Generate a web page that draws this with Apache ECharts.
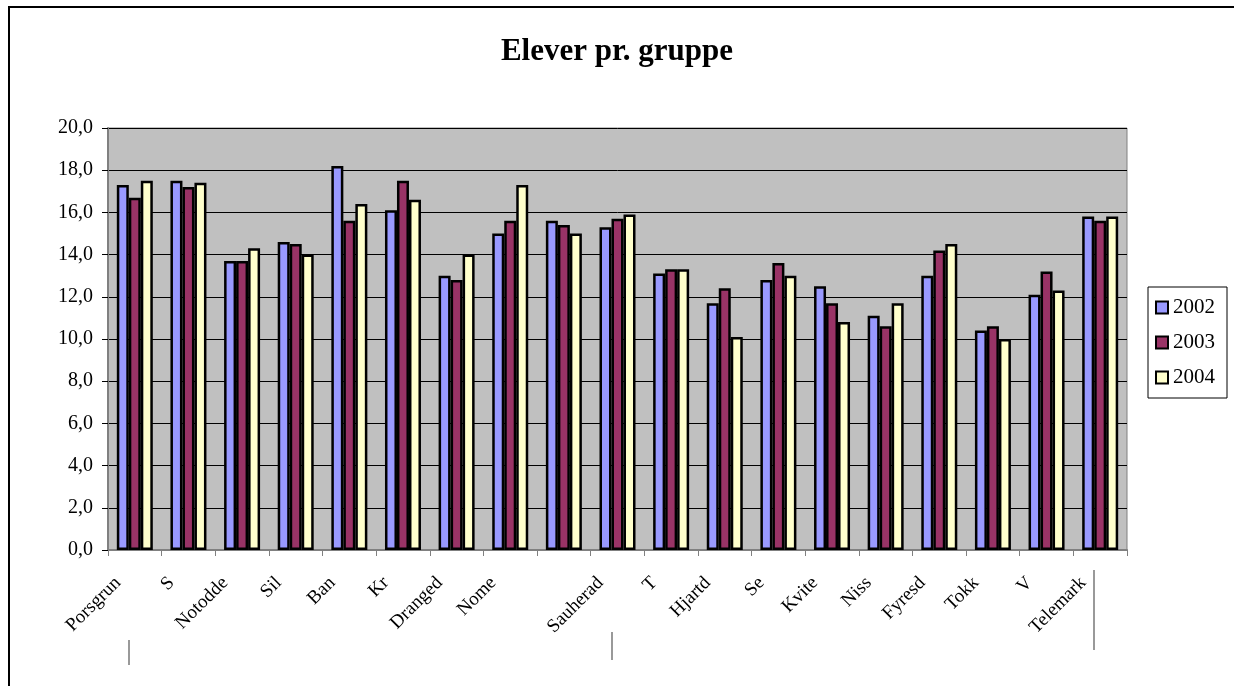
<!DOCTYPE html>
<html>
<head>
<meta charset="utf-8">
<script src="https://cdn.jsdelivr.net/npm/echarts@6/dist/echarts.min.js"></script>
<style>
  html, body { margin: 0; padding: 0; background: #fff; }
  #frame {
    position: absolute; left: 8px; top: 6px; width: 1226px; height: 680px;
    border-top: 2px solid #000; border-left: 2px solid #000;
  }
  #chart { position: absolute; left: 0; top: 0; width: 1234px; height: 686px; }
</style>
</head>
<body>
<div id="frame"></div>
<div id="chart"></div>
<script>
// labels as they show (clipped) under the axis
const labels = ["Porsgrun", "S", "Notodde", "Sil", "Ban", "Kr", "Dranged", "Nome", "",
  "Sauherad", "T", "Hjartd", "Se", "Kvite", "Niss", "Fyresd", "Tokk", "V", "Telemark"];
const years = ["2002", "2003", "2004"];
const v2002 = [17.3, 17.5, 13.7, 14.6, 18.2, 16.1, 13.0, 15.0, 15.6, 15.3, 13.1, 11.7, 12.8, 12.5, 11.1, 13.0, 10.4, 12.1, 15.8];
const v2003 = [16.7, 17.2, 13.7, 14.5, 15.6, 17.5, 12.8, 15.6, 15.4, 15.7, 13.3, 12.4, 13.6, 11.7, 10.6, 14.2, 10.6, 13.2, 15.6];
const v2004 = [17.5, 17.4, 14.3, 14.0, 16.4, 16.6, 14.0, 17.3, 15.0, 15.9, 13.3, 10.1, 13.0, 10.8, 11.7, 14.5, 10.0, 12.3, 15.8];
const colors = ["#9999FF", "#993366", "#FFFFCC"];

const chart = echarts.init(document.getElementById("chart"));
const font = "'Liberation Serif', 'Times New Roman', serif";

function bar(name, data, color) {
  return {
    name: name,
    type: "bar",
    data: data,
    barWidth: 12,
    barGap: "0%",
    itemStyle: { color: color, borderColor: "#000", borderWidth: 2.5 }
  };
}

chart.setOption({
  animation: false,
  textStyle: { fontFamily: font },
  title: {
    text: "Elever pr. gruppe",
    left: "center",
    top: 31,
    textStyle: { fontFamily: font, fontSize: 31, fontWeight: "bold", color: "#000" }
  },
  legend: {
    orient: "vertical",
    left: 1148,
    top: 287,
    width: 79,
    data: years,
    itemWidth: 12,
    itemHeight: 12,
    itemGap: 14,
    padding: [10, 12, 10, 7],
    borderColor: "#000",
    borderWidth: 1,
    icon: "rect",
    textStyle: { fontFamily: font, fontSize: 21, color: "#000" }
  },
  grid: {
    left: 108, right: 107, top: 128, bottom: 136,
    show: true,
    backgroundColor: "#C0C0C0",
    borderColor: "#808080",
    borderWidth: 1
  },
  xAxis: {
    type: "category",
    data: labels,
    axisLine: { lineStyle: { color: "#808080", width: 2 } },
    axisTick: { show: true, length: 6, lineStyle: { color: "#808080" } },
    axisLabel: {
      rotate: 45,
      interval: 0,
      margin: 13,
      padding: [0, 24, 0, 0],
      fontFamily: font,
      fontSize: 19,
      color: "#000"
    }
  },
  yAxis: {
    type: "value",
    min: 0,
    max: 20,
    interval: 2,
    axisLine: { show: true, lineStyle: { color: "#808080", width: 2 } },
    axisTick: { show: true, length: 6, lineStyle: { color: "#000" } },
    splitLine: { lineStyle: { color: "#000", width: 1 } },
    axisLabel: {
      margin: 15,
      fontFamily: font,
      fontSize: 20,
      color: "#000",
      formatter: v => v.toFixed(1).replace(".", ",")
    }
  },
  graphic: [
    { type: "line", shape: { x1: 129, y1: 640, x2: 129, y2: 665 }, style: { stroke: "#999", lineWidth: 2 } },
    { type: "line", shape: { x1: 612, y1: 632, x2: 612, y2: 660 }, style: { stroke: "#999", lineWidth: 2 } },
    { type: "line", shape: { x1: 1094, y1: 570, x2: 1094, y2: 650 }, style: { stroke: "#999", lineWidth: 2 } }
  ],
  series: [
    bar(years[0], v2002, colors[0]),
    bar(years[1], v2003, colors[1]),
    bar(years[2], v2004, colors[2])
  ]
});
</script>
</body>
</html>
